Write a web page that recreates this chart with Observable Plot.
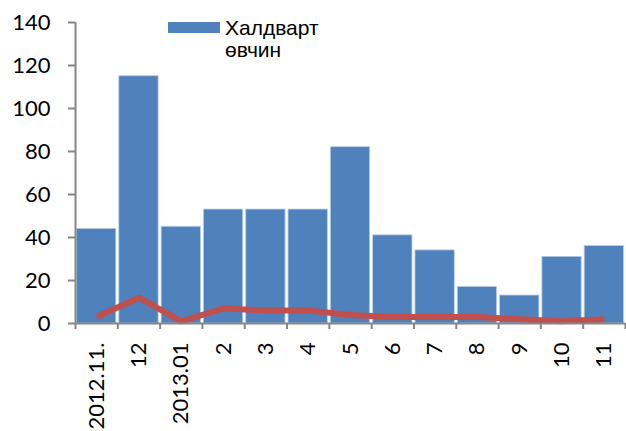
<!DOCTYPE html>
<html><head><meta charset="utf-8">
<script src="https://cdn.jsdelivr.net/npm/d3@7"></script>
<script src="https://cdn.jsdelivr.net/npm/@observablehq/plot@0.6"></script>
<style>
body{margin:0;background:#fff;}
#wrap{position:relative;width:626px;height:431px;overflow:hidden;font-family:"Liberation Sans",Arial,sans-serif;}
#legend{position:absolute;left:168px;top:17px;display:flex;align-items:flex-start;font-size:21px;line-height:22px;color:#000;z-index:2;}
#legend .sw{width:52px;height:11px;background:#4F81BD;margin-top:5px;margin-right:5px;}
</style></head><body>
<div id="wrap"><div id="legend"><div class="sw"></div><div>Халдварт<br>өвчин</div></div></div>
<script>
const categories = ["2012.11.","12","2013.01","2","3","4","5","6","7","8","9","10","11"];
const infections = [44,115,45,53,53,53,82,41,34,17,13,31,36];
const lineValues = [3,12,1,7,6,6,4,3,3,3,2,1,2];
const yTicks = [0,20,40,60,80,100,120,140];

const data = categories.map((c,i)=>({i, c, v: infections[i], l: lineValues[i]}));
const axisGray = "#868686";
const plot = Plot.plot({
  width:626, height:431, marginLeft:75, marginRight:1, marginTop:22, marginBottom:108,
  style:{fontFamily:"Lato", fontSize:"22px", background:"#fff", color:"#000", overflow:"visible"},
  x:{domain:[0,categories.length], axis:null},
  y:{domain:[0,140], axis:null},
  marks:[
    Plot.rectY(data,{x1:"i", x2:d=>d.i+1, y:"v", fill:"#4F81BD", stroke:"#b9cde5", strokeWidth:0.8, insetLeft:1.5, insetRight:1.5}),
    Plot.line(data,{x:d=>d.i+0.5, y:"l", stroke:"#C0504D", strokeWidth:6, strokeLinecap:"butt", strokeLinejoin:"round"}),
    Plot.ruleY([0],{stroke:axisGray, strokeWidth:2}),
    Plot.ruleX([0],{y1:0, y2:140, stroke:axisGray, strokeWidth:2}),
    Plot.axisY(yTicks,{tickSize:7, tickPadding:18, stroke:axisGray, strokeWidth:2, fill:"#000", fontSize:22, fontFamily:"Lato", label:null}),
    Plot.axisX(d3.range(categories.length+1),{tickSize:6, tickFormat:()=>"", stroke:axisGray, strokeWidth:2, label:null}),
    Plot.text(data,{x:d=>d.i+0.5, y:0, text:"c", rotate:-90, textAnchor:"end", dy:19, fontSize:22, fontFamily:"Lato", fill:"#000"})
  ]
});
document.getElementById("wrap").appendChild(plot);
plot.style.position="absolute"; plot.style.left="0"; plot.style.top="0";
</script>
</body></html>
